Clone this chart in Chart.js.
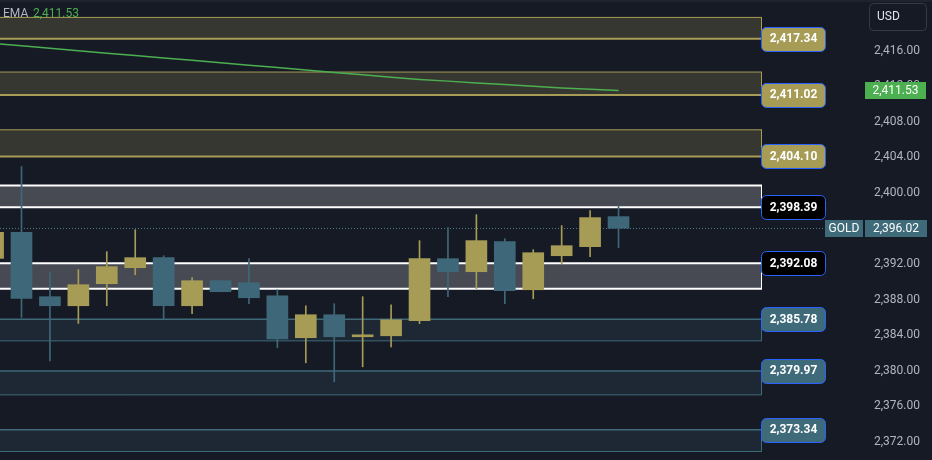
<!DOCTYPE html>
<html><head><meta charset="utf-8">
<script src="https://cdn.jsdelivr.net/npm/chart.js@4.4.1/dist/chart.umd.min.js"></script>
<style>html,body{margin:0;padding:0;background:#161a25;overflow:hidden}canvas{display:block}</style>
</head><body>
<canvas id="c" width="932" height="460"></canvas>
<script>
// ---- data ----
const candleSlots = [0,1,2,3,4,5,6,7,8,9,10,11,12,13,14,15,16,17,18,19,20,21,22];
const opens  = [2392.63,2395.56,2388.32,2387.30,2389.78,2391.58,2392.71,2387.30,2390.12,2389.89,2388.43,2383.70,2386.29,2383.81,2383.92,2385.61,2392.60,2391.13,2394.51,2389.10,2392.93,2393.95,2397.33];
const highs  = [2396.20,2402.96,2391.02,2391.36,2393.39,2395.86,2392.93,2390.46,2390.12,2392.60,2389.10,2387.30,2387.53,2388.32,2387.41,2394.63,2396.09,2397.55,2394.85,2393.61,2396.32,2398.01,2398.57];
const lows   = [2391.80,2385.98,2381.10,2385.31,2387.30,2390.79,2385.84,2386.40,2388.88,2387.53,2382.57,2380.88,2378.74,2380.43,2382.68,2385.28,2388.32,2389.22,2387.53,2388.09,2392.03,2392.82,2393.84];
const closes = [2395.56,2388.12,2387.30,2389.67,2391.70,2392.71,2387.30,2390.12,2388.88,2388.20,2383.58,2386.29,2383.81,2384.03,2385.72,2392.60,2391.13,2394.63,2388.99,2393.27,2394.06,2397.22,2396.02];
const emaValues = [2416.82,2416.55,2416.28,2416.00,2415.73,2415.46,2415.19,2414.92,2414.65,2414.37,2414.10,2413.83,2413.56,2413.29,2413.02,2412.77,2412.58,2412.38,2412.19,2412.00,2411.82,2411.66,2411.53];
const levelValues = [2417.34,2411.02,2404.10,2398.39,2392.08,2385.78,2379.97,2373.34];
const zoneFarEdge = [2419.75,2413.60,2407.10,2400.82,2389.22,2383.35,2377.27,2370.90];
const levelKinds  = ['res','res','res','piv','piv','sup','sup','sup'];
const tickValues  = [2372,2376,2380,2384,2388,2392,2396,2400,2404,2408,2412,2416];
const lastPrice = 2396.02;
const symbolName = 'GOLD';
const emaName = 'EMA';
const currencyName = 'USD';

// ---- styles ----
const UP = '#a69c55', DOWN = '#3e6879';
const kindStyle = {
  res: {fill:'#363730', edge:'#a69c55', lvl:'#a69c55', lvlW:2, edgeW:1, label:'#a69c55', text:'#ffffff'},
  piv: {fill:'#474a53', edge:'#ffffff', lvl:'#ffffff', lvlW:2, edgeW:2, label:'#000000', text:'#ffffff'},
  sup: {fill:'#1d2834', edge:'#3e6a7a', lvl:'#3e6a7a', lvlW:1.5, edgeW:1, label:'#3e6a7a', text:'#ffffff'}
};
const fmt = v => Number(v).toLocaleString('en-US',{minimumFractionDigits:2,maximumFractionDigits:2});
const candleColors = candleSlots.map((s,i)=> closes[i] >= opens[i] ? UP : DOWN);

function rrect(ctx,x,y,w,h,r){
  ctx.beginPath();
  if (ctx.roundRect) ctx.roundRect(x,y,w,h,r); else ctx.rect(x,y,w,h);
}

const overlay = {
  id:'overlay',
  beforeDraw(chart){
    const ctx = chart.ctx;
    ctx.save();
    ctx.fillStyle = '#161a25';
    ctx.fillRect(0,0,chart.width,chart.height);
    ctx.restore();
  },
  beforeDatasetsDraw(chart){
    const {ctx, chartArea:a, scales:{y}} = chart;
    const zoneRight = 762;
    ctx.save();
    levelValues.forEach((lv,i)=>{
      const st = kindStyle[levelKinds[i]];
      const yl = y.getPixelForValue(lv), yf = y.getPixelForValue(zoneFarEdge[i]);
      const top = Math.min(yl,yf), h = Math.abs(yf-yl);
      ctx.fillStyle = st.fill;
      ctx.fillRect(a.left, top, zoneRight - a.left, h);
      ctx.strokeStyle = st.edge; ctx.lineWidth = st.edgeW;
      ctx.beginPath(); ctx.moveTo(a.left, yf); ctx.lineTo(zoneRight, yf); ctx.stroke();
      ctx.lineWidth = 1;
      ctx.beginPath(); ctx.moveTo(zoneRight-0.5, top); ctx.lineTo(zoneRight-0.5, top+h); ctx.stroke();
      ctx.strokeStyle = st.lvl; ctx.lineWidth = st.lvlW;
      ctx.beginPath(); ctx.moveTo(a.left, yl); ctx.lineTo(zoneRight, yl); ctx.stroke();
    });
    const yp = y.getPixelForValue(lastPrice);
    ctx.strokeStyle = '#4a7888'; ctx.lineWidth = 1; ctx.setLineDash([1,2]);
    ctx.beginPath(); ctx.moveTo(a.left, Math.round(yp)+0.5); ctx.lineTo(825, Math.round(yp)+0.5); ctx.stroke();
    ctx.setLineDash([]);
    ctx.restore();
  },
  afterDraw(chart){
    const {ctx, scales:{y}} = chart;
    ctx.save();
    ctx.textBaseline = 'middle';
    levelValues.forEach((lv,i)=>{
      const st = kindStyle[levelKinds[i]];
      const yc = y.getPixelForValue(lv);
      rrect(ctx, 761.5, Math.round(yc)-12+0.5, 64, 24, 5);
      ctx.fillStyle = st.label; ctx.fill();
      ctx.strokeStyle = '#2962ff'; ctx.lineWidth = 1; ctx.stroke();
      ctx.fillStyle = st.text; ctx.font = 'bold 12px Roboto'; ctx.textAlign = 'center';
      ctx.fillText(fmt(lv), 793.5, yc+0.5);
    });
    const yp = y.getPixelForValue(lastPrice);
    ctx.fillStyle = '#3e6a7a';
    ctx.fillRect(825, Math.round(yp)-8, 38, 17);
    ctx.fillRect(865, Math.round(yp)-8, 62, 17);
    ctx.fillStyle = '#ffffff'; ctx.font = '12px Roboto'; ctx.textAlign = 'center';
    ctx.fillText(symbolName, 844, yp+1);
    ctx.fillText(fmt(lastPrice), 896, yp+1);
    const emaLast = emaValues[emaValues.length-1];
    const ye = y.getPixelForValue(emaLast);
    ctx.fillStyle = '#4caf50';
    ctx.fillRect(865, Math.round(ye)-8, 61, 17);
    ctx.fillStyle = '#ffffff';
    ctx.fillText(fmt(emaLast), 895.5, ye+1);
    ctx.fillStyle = '#161a25';
    rrect(ctx, 869.5, 3.5, 57, 27, 4); ctx.fill();
    ctx.strokeStyle = '#363a45'; ctx.lineWidth = 1; ctx.stroke();
    ctx.fillStyle = '#e0e3eb'; ctx.textAlign = 'left'; ctx.font = '12px Roboto';
    ctx.fillText(currencyName, 877, 17);
    ctx.fillStyle = '#b2b5be';
    ctx.fillText(emaName, 3, 14);
    ctx.fillStyle = '#4caf50';
    ctx.fillText(fmt(emaLast), 33, 14);
    ctx.fillStyle = '#1f232e';
    ctx.fillRect(0,0,chart.width,2);
    ctx.restore();
  }
};

const xMin = 0.2437, xMax = 30.634;
new Chart(document.getElementById('c'), {
  type: 'bar',
  data: {
    datasets: [
      {type:'line', label: emaName, data: candleSlots.map((s,i)=>({x:s, y:emaValues[i]})),
       borderColor:'#4caf50', borderWidth:1.5, pointRadius:0, tension:0, order:0},
      {label:'body', data: candleSlots.map((s,i)=>({x:s, y:[opens[i], closes[i]]})),
       backgroundColor:candleColors, barThickness:21, grouped:false, borderWidth:0, order:1},
      {label:'wick', data: candleSlots.map((s,i)=>({x:s, y:[lows[i], highs[i]]})),
       backgroundColor:candleColors, barThickness:1, grouped:false, borderWidth:0, order:2}
    ]
  },
  options: {
    responsive:false, animation:false, devicePixelRatio:1,
    layout:{padding:0},
    plugins:{legend:{display:false}, tooltip:{enabled:false}},
    scales:{
      x:{type:'linear', min:xMin, max:xMax, offset:false, display:false},
      y:{position:'right', min:2369.94, max:2421.71,
         grid:{display:false, drawTicks:false}, border:{display:false},
         afterBuildTicks: s => { s.ticks = tickValues.map(v=>({value:v})); },
         afterFit: s => { s.width = 68; s.paddingTop = 0; s.paddingBottom = 0; },
         ticks:{padding:10, color:'#b2b5be', font:{family:'Roboto', size:12}, callback: v => fmt(v)}}
    }
  },
  plugins:[overlay]
});
</script>
</body></html>
